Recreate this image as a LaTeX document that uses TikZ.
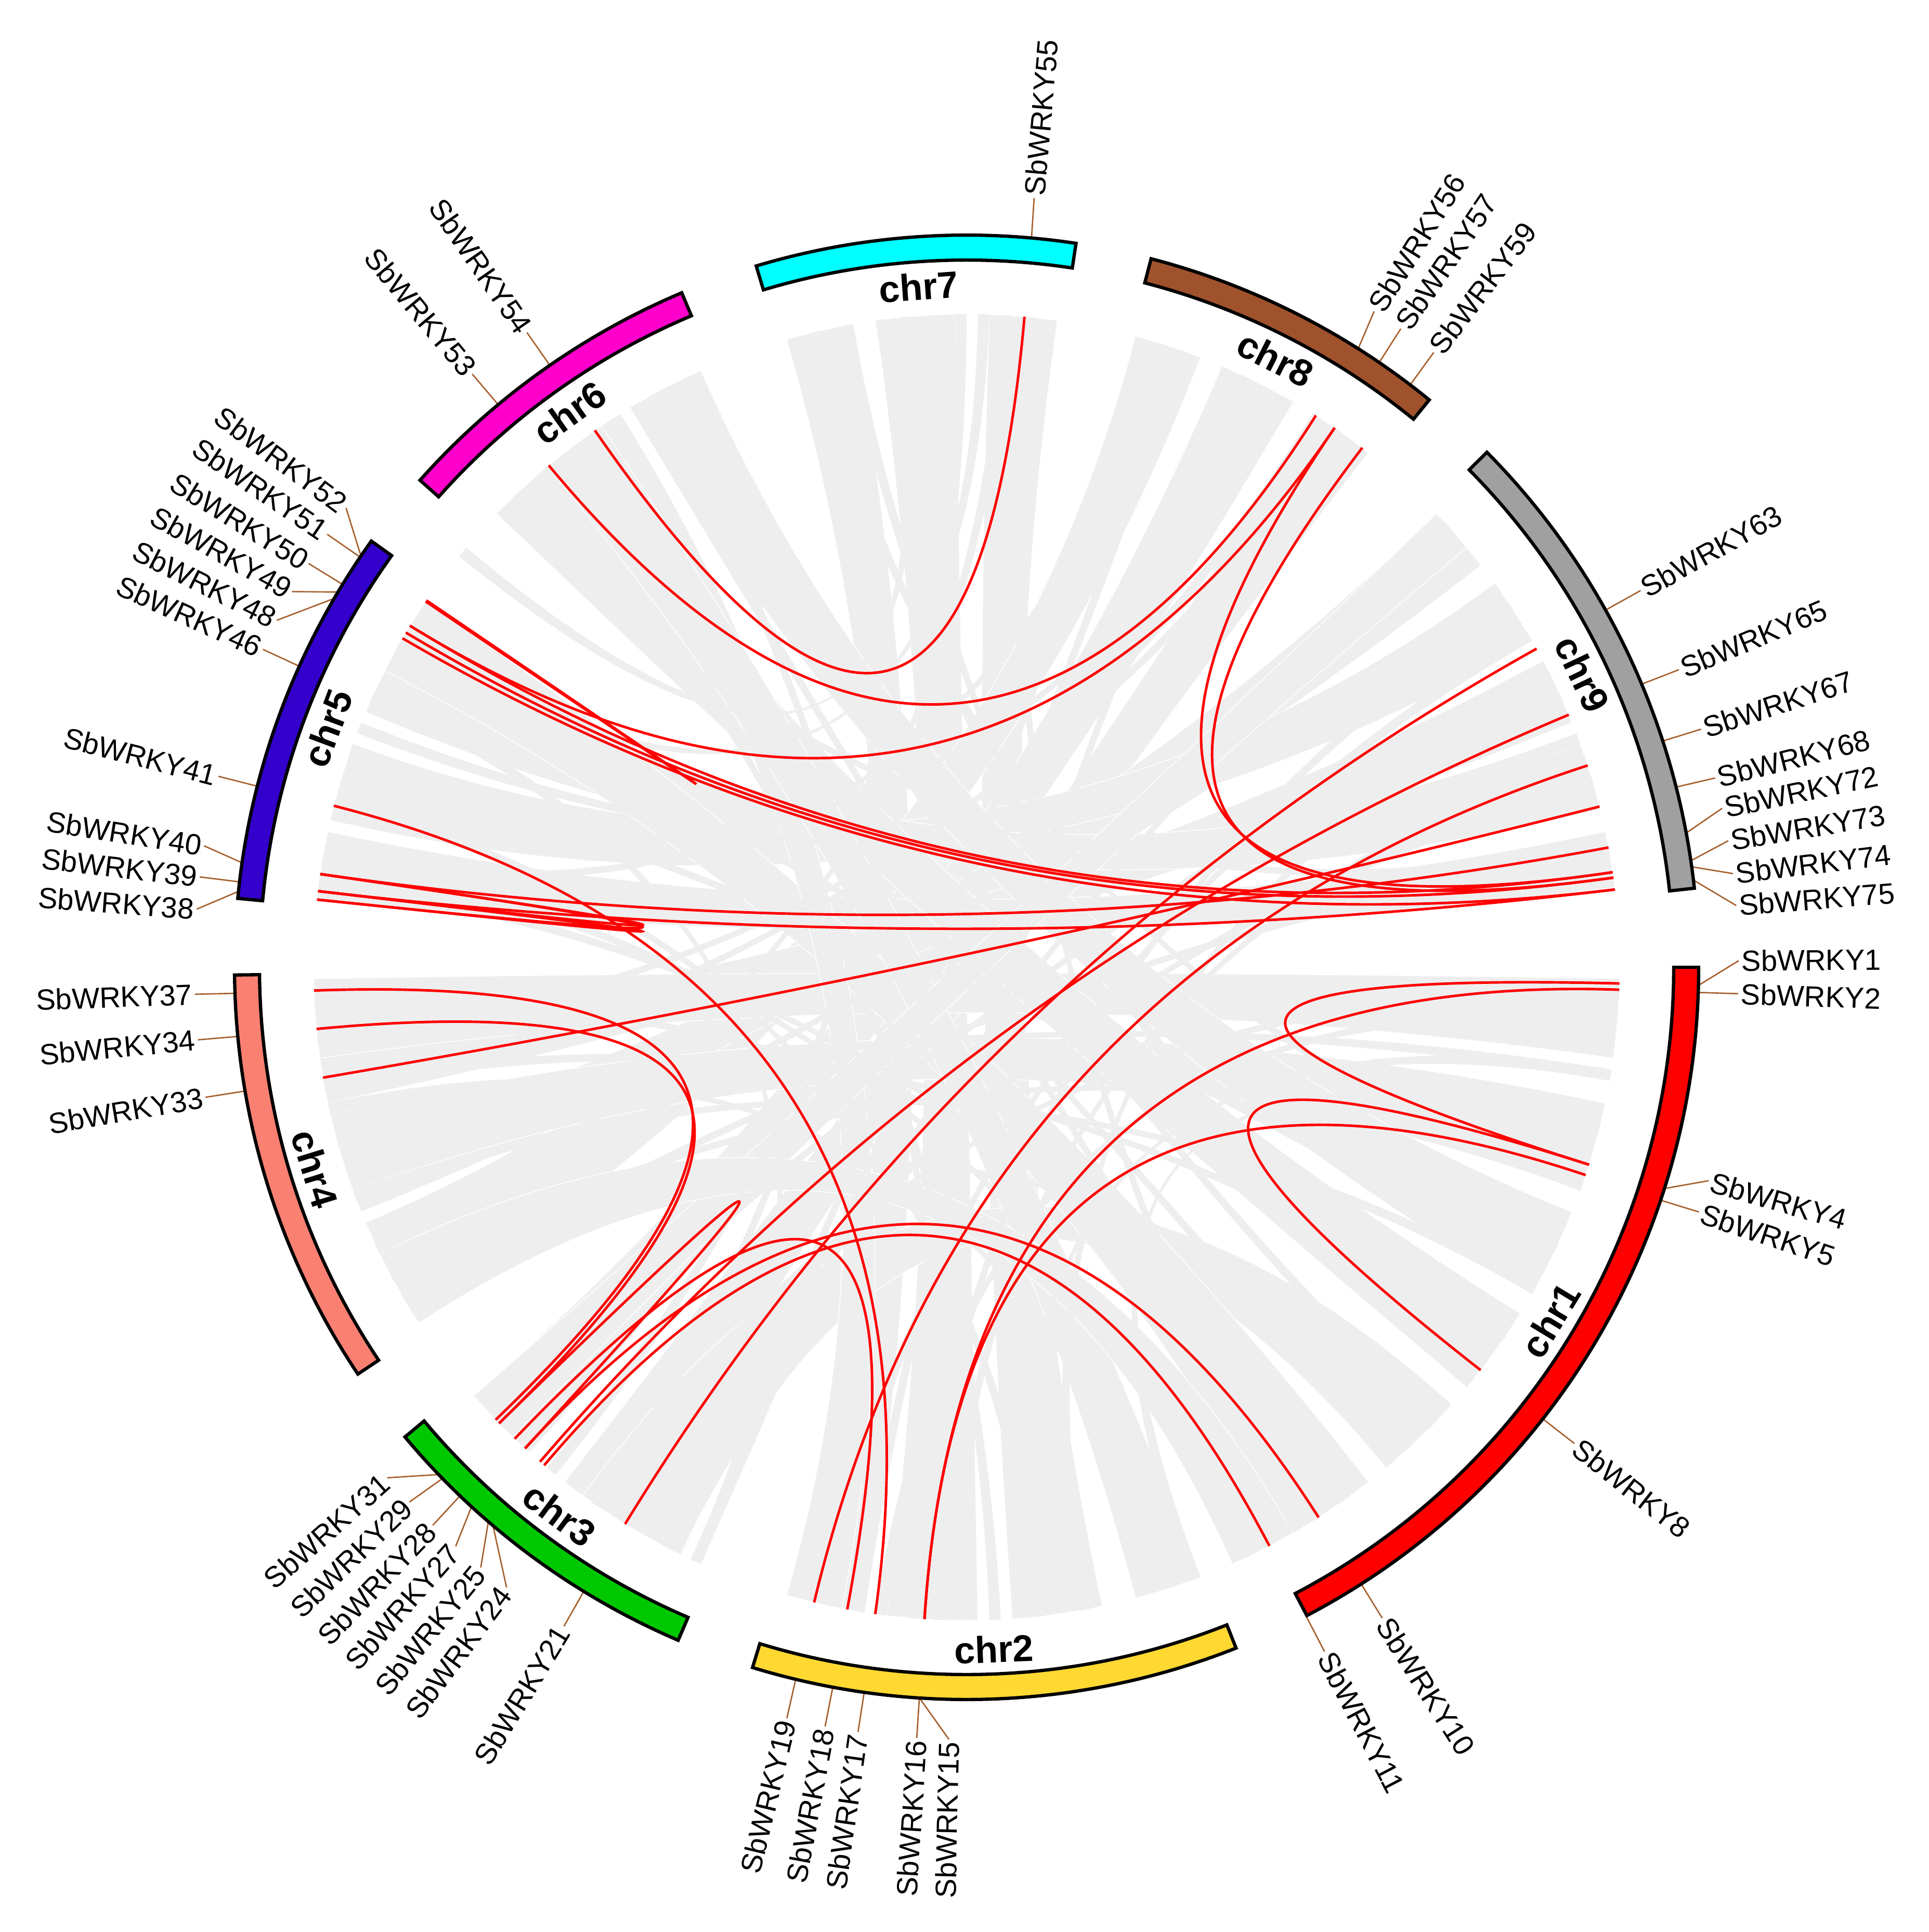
\documentclass[tikz,border=0pt]{standalone}
\usepackage{fontspec}
\setmainfont{Liberation Sans}
\usetikzlibrary{calc}

\definecolor{chr1col}{RGB}{255,0,0}
\definecolor{chr2col}{RGB}{255,217,50}
\definecolor{chr3col}{RGB}{0,200,0}
\definecolor{chr4col}{RGB}{250,128,114}
\definecolor{chr5col}{RGB}{51,0,204}
\definecolor{chr6col}{RGB}{255,0,204}
\definecolor{chr7col}{RGB}{0,255,255}
\definecolor{chr8col}{RGB}{160,82,45}
\definecolor{chr9col}{RGB}{160,160,160}
\definecolor{tickbrown}{RGB}{165,95,45}
\definecolor{ribbongray}{RGB}{238,238,238}

\newcommand{\Rout}{14.08}
\newcommand{\Rin}{13.60}
\newcommand{\Rlink}{12.56}
\newcommand{\Rctl}{4.19}

\tikzset{
  chrom/.style={draw=black, line width=1.8pt},
  chrname/.style={font=\bfseries\fontsize{20.5}{24}\selectfont, inner sep=0pt},
  genetick/.style={draw=tickbrown, line width=0.75pt},
  genename/.style={font=\fontsize{16}{19}\selectfont, inner sep=0.5pt},
  redlink/.style={draw=red, line width=1.4pt},
  ribbon/.style={fill=ribbongray, draw=white, line width=0.4pt},
  thinribbon/.style={fill=ribbongray}
}

\begin{document}
\begin{tikzpicture}
  \useasboundingbox (-18.59,-18.55) rectangle (18.51,18.60);
  \coordinate (O) at (0,0);

  % synteny blocks (gray), wide ones
  \foreach \a/\b/\c/\d in {
      100/106/-105/-99, 91/98/-97/-89, 82/88/-86/-78, 69/75/203/212,
      60/67/221/228, 52/58/232/239, 38/44/196/202, 30/36/160/167,
      22/28/185/192, 14/20/150/157, 7/12/168/174, -8/-1/181/188,
      -20/-12/193/200, -30/-22/114/121, -40/-32/128/136, -50/-42/234/244,
      -61/-52/146/153, -106/-101/122/127, -75/-69/124/130, -139/-134/40/44,
      206/213/-66/-60}{
    \path[ribbon] (\a:\Rlink) arc[start angle=\a, end angle=\b, radius=\Rlink]
      .. controls (\b:\Rctl) and (\c:\Rctl) .. (\c:\Rlink)
      arc[start angle=\c, end angle=\d, radius=\Rlink]
      .. controls (\d:\Rctl) and (\a:\Rctl) .. cycle;
  }

  % synteny blocks (gray), narrow ones
  \foreach \a/\b/\c/\d in {
      86/87/205/206, 95/96/140/141, 70/71/245/246,
      24/25/-80/-79, 33/34/-95/-94, 16/17/-122/-121,
      -5/-4/-98/-97, -15/-14/-70/-69, -26/-25/160/161,
      -35/-34/190/191, -45/-44/115/116, -55/-54/172/173,
      130/131/-88/-87, 155/156/-115/-114, 165/166/60/61,
      200/201/-30/-29, 210/211/10/11, -125/-124/100/101,
      84/85/-60/-59, 88/89/150/151, 97/98/-40/-39,
      103/104/-20/-19, 57/58/190/191, 64/65/-100/-99,
      72/73/170/171, 42/43/-118/-117, 35/36/205/206,
      26/27/-136/-135, 18/19/-92/-91, 10/11/135/136,
      -3/-2/-125/-124, -10/-9/-85/-84, -18/-17/208/209,
      -28/-27/150/151, -38/-37/100/101, -48/-47/183/184,
      -58/-57/120/121, -72/-71/192/193, -84/-83/165/166,
      -93/-92/118/119, -103/-102/30/31, -117/-116/74/75,
      -130/-129/90/91, 186/187/55/56, 195/196/-10/-9,
      211/212/-45/-44, 170/171/-65/-64, 158/159/20/21,
      133/134/-50/-49, 117/118/-30/-29}{
    \path[thinribbon] (\a:\Rlink) arc[start angle=\a, end angle=\b, radius=\Rlink]
      .. controls (\b:\Rctl) and (\c:\Rctl) .. (\c:\Rlink)
      arc[start angle=\c, end angle=\d, radius=\Rlink]
      .. controls (\d:\Rctl) and (\a:\Rctl) .. cycle;
  }

  % genes on the right half
  \foreach \g/\a/\b in {1/-1.42/0.49, 2/-1.97/-1.96, 4/-17.59/-16.04,
      5/-18.55/-18.47, 8/-38.08/-38.07, 10/-57.38/-57.43, 11/-62.37/-62.38,
      55/84.91/84.98, 56/57.66/58.14, 57/55.69/55.78, 59/52.70/52.77,
      63/29.20/29.20, 65/22.75/22.67, 67/18.00/17.96, 68/14.25/14.19,
      72/10.57/11.88, 73/8.37/9.43, 74/7.89/6.97, 75/6.84/4.59}{
    \coordinate (g\g) at (\a:\Rout);
    \coordinate (t\g) at (\b:14.85);
    \coordinate (k\g) at (\a:\Rlink);
    \draw[genetick] (g\g) -- (t\g);
    \node[genename, anchor=west, rotate=\b] (n\g) at (\b:14.88) {SbWRKY\g};
  }

  % genes on the left half
  \foreach \g/\a/\b in {15/-93.69/-91.31, 16/-93.70/-93.70, 17/-98.04/-98.08,
      18/-100.53/-100.56, 19/-103.50/-103.46, 21/-121.53/-121.43,
      24/-130.31/-126.57, 25/-130.79/-128.99, 27/-132.55/-131.43,
      28/-133.79/-133.74, 29/-135.72/-136.18, 31/-136.15/-138.62,
      33/189.73/189.69, 34/185.42/185.39, 37/182.04/182.00,
      38/174.05/175.68, 39/173.30/173.28, 40/171.79/170.95,
      41/165.68/165.68, 46/155.72/155.69, 48/149.75/153.30,
      49/149.17/150.89, 50/148.47/148.47, 51/145.93/145.90,
      52/145.82/143.49, 53/129.78/129.81, 54/124.70/124.71}{
    \coordinate (g\g) at (\a:\Rout);
    \coordinate (t\g) at (\b:14.85);
    \coordinate (k\g) at (\a:\Rlink);
    \draw[genetick] (g\g) -- (t\g);
    \node[genename, anchor=east, rotate=\b+180] (n\g) at (\b:14.88) {SbWRKY\g};
  }

  % segmental duplications (red)
  \foreach \p/\q in {54/55, 53/56, 50/57, 51/52, 48/75, 49/74, 50/73,
      57/73, 59/74, 38/39, 39/40, 38/40, 40/72, 39/75, 41/17, 37/31,
      34/29, 33/68, 21/63, 25/65, 28/18, 27/10, 24/11, 27/29, 19/67,
      1/4, 4/8, 2/16, 5/15}{
    \draw[redlink] (k\p) .. controls ($(O)!0.3333!(k\p)$)
      and ($(O)!0.3333!(k\q)$) .. (k\q);
  }

  % chromosomes
  \foreach \n/\s/\e/\m/\r in {1/0.0/-62.3/-31.15/58.85,
      2/-68.4/-107.0/-87.7/2.3, 3/-113.2/-140.1/-126.65/-36.65,
      4/180.6/213.75/197.18/-72.82, 5/144.4/174.6/159.5/69.5,
      6/112.9/138.3/125.6/35.6, 7/81.4/106.7/94.05/4.05,
      8/50.8/75.4/63.1/-26.9, 9/6.2/44.7/25.45/-64.55}{
    \draw[chrom, fill=chr\n col] (\s:\Rout)
      arc[start angle=\s, end angle=\e, radius=\Rout]
      -- (\e:\Rin) arc[start angle=\e, end angle=\s, radius=\Rin] -- cycle;
    \node[chrname, rotate=\r] (c\n) at (\m:13.12) {chr\n};
  }
\end{tikzpicture}
\end{document}
